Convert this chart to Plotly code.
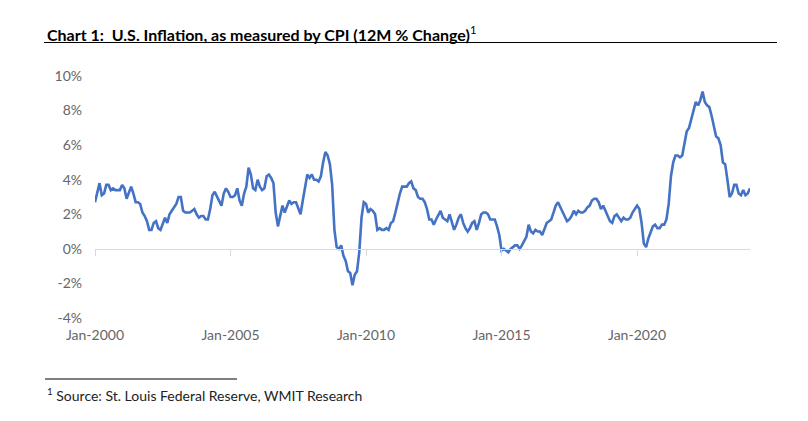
import plotly.graph_objects as go

# Monthly CPI-U 12-month % change, Jan-2000 .. Mar-2024
cpi_2000 = [2.7, 3.2, 3.8, 3.1, 3.2, 3.7, 3.7, 3.4, 3.5, 3.4, 3.4, 3.4]
cpi_2001 = [3.7, 3.5, 2.9, 3.3, 3.6, 3.2, 2.7, 2.7, 2.6, 2.1, 1.9, 1.6]
cpi_2002 = [1.1, 1.1, 1.5, 1.6, 1.2, 1.1, 1.5, 1.8, 1.5, 2.0, 2.2, 2.4]
cpi_2003 = [2.6, 3.0, 3.0, 2.2, 2.1, 2.1, 2.1, 2.2, 2.3, 2.0, 1.8, 1.9]
cpi_2004 = [1.9, 1.7, 1.7, 2.3, 3.1, 3.3, 3.0, 2.7, 2.5, 3.2, 3.5, 3.3]
cpi_2005 = [3.0, 3.0, 3.1, 3.5, 2.8, 2.5, 3.2, 3.6, 4.7, 4.3, 3.5, 3.4]
cpi_2006 = [4.0, 3.6, 3.4, 3.5, 4.2, 4.3, 4.1, 3.8, 2.1, 1.3, 2.0, 2.5]
cpi_2007 = [2.1, 2.4, 2.8, 2.6, 2.7, 2.7, 2.4, 2.0, 2.8, 3.5, 4.3, 4.1]
cpi_2008 = [4.3, 4.0, 4.0, 3.9, 4.2, 5.0, 5.6, 5.4, 4.9, 3.7, 1.1, 0.1]
cpi_2009 = [0.0, 0.2, -0.4, -0.7, -1.3, -1.4, -2.1, -1.5, -1.3, -0.2, 1.8, 2.7]
cpi_2010 = [2.6, 2.1, 2.3, 2.2, 2.0, 1.1, 1.2, 1.1, 1.1, 1.2, 1.1, 1.5]
cpi_2011 = [1.6, 2.1, 2.7, 3.2, 3.6, 3.6, 3.6, 3.8, 3.9, 3.5, 3.4, 3.0]
cpi_2012 = [2.9, 2.9, 2.7, 2.3, 1.7, 1.7, 1.4, 1.7, 2.0, 2.2, 1.8, 1.7]
cpi_2013 = [1.6, 2.0, 1.5, 1.1, 1.4, 1.8, 2.0, 1.5, 1.2, 1.0, 1.2, 1.5]
cpi_2014 = [1.6, 1.1, 1.5, 2.0, 2.1, 2.1, 2.0, 1.7, 1.7, 1.7, 1.3, 0.8]
cpi_2015 = [-0.1, 0.0, -0.1, -0.2, 0.0, 0.1, 0.2, 0.2, 0.0, 0.2, 0.5, 0.7]
cpi_2016 = [1.4, 1.0, 0.9, 1.1, 1.0, 1.0, 0.8, 1.1, 1.5, 1.6, 1.7, 2.1]
cpi_2017 = [2.5, 2.7, 2.4, 2.2, 1.9, 1.6, 1.7, 1.9, 2.2, 2.0, 2.2, 2.1]
cpi_2018 = [2.1, 2.2, 2.4, 2.5, 2.8, 2.9, 2.9, 2.7, 2.3, 2.5, 2.2, 1.9]
cpi_2019 = [1.6, 1.5, 1.9, 2.0, 1.8, 1.6, 1.8, 1.7, 1.7, 1.8, 2.1, 2.3]
cpi_2020 = [2.5, 2.3, 1.5, 0.3, 0.1, 0.6, 1.0, 1.3, 1.4, 1.2, 1.2, 1.4]
cpi_2021 = [1.4, 1.7, 2.6, 4.2, 5.0, 5.4, 5.4, 5.3, 5.4, 6.2, 6.8, 7.0]
cpi_2022 = [7.5, 7.9, 8.5, 8.3, 8.6, 9.1, 8.5, 8.3, 8.2, 7.7, 7.1, 6.5]
cpi_2023 = [6.4, 6.0, 5.0, 4.9, 4.0, 3.0, 3.2, 3.7, 3.7, 3.2, 3.1, 3.4]
cpi_2024 = [3.1, 3.2, 3.5]

cpi = (cpi_2000 + cpi_2001 + cpi_2002 + cpi_2003 + cpi_2004 + cpi_2005 +
       cpi_2006 + cpi_2007 + cpi_2008 + cpi_2009 + cpi_2010 + cpi_2011 +
       cpi_2012 + cpi_2013 + cpi_2014 + cpi_2015 + cpi_2016 + cpi_2017 +
       cpi_2018 + cpi_2019 + cpi_2020 + cpi_2021 + cpi_2022 + cpi_2023 +
       cpi_2024)
months = list(range(len(cpi)))

x_tick_vals = [0, 60, 120, 180, 240]
x_tick_text = ["Jan-2000", "Jan-2005", "Jan-2010", "Jan-2015", "Jan-2020"]
y_tick_vals = [-4, -2, 0, 2, 4, 6, 8, 10]
y_tick_text = ["-4%", "-2%", "0%", "2%", "4%", "6%", "8%", "10%"]

# page body adds an 8px margin, so work in a slightly smaller paper
OFF = 8
W, H = 808 - OFF, 421 - OFF


def px(x):
    return (x - OFF) / W


def py(y):
    return 1 - (y - OFF) / H


y_min, y_max = -4, 10
x_dom = [px(95), px(750)]
y_dom = [py(318), py(76)]
zero_pos = y_dom[0] + (0 - y_min) / (y_max - y_min) * (y_dom[1] - y_dom[0])

FONT = "Lato"
GRAY = "#666666"

fig = go.Figure()
fig.add_trace(go.Scatter(x=months, y=cpi, mode="lines",
                         line=dict(color="#4472C4", width=2.6),
                         hoverinfo="skip", showlegend=False))
# helper trace so the zero-positioned axis is drawn
fig.add_trace(go.Scatter(x=months, y=cpi, mode="lines", xaxis="x2",
                         line=dict(color="rgba(0,0,0,0)", width=0),
                         hoverinfo="skip", showlegend=False))

fig.update_layout(
    template="none",
    width=W, height=H, autosize=False,
    margin=dict(l=0, r=0, t=0, b=0, pad=0),
    paper_bgcolor="white", plot_bgcolor="white",
    font=dict(family=FONT, color=GRAY, size=13),
    xaxis=dict(domain=x_dom, range=[0, len(cpi) - 1], showgrid=False,
               automargin=False,
               zeroline=False, showline=False, ticks="",
               tickmode="array", tickvals=x_tick_vals, ticktext=x_tick_text,
               tickfont=dict(family=FONT, size=14, color=GRAY),
               ticklabelstandoff=7),
    xaxis2=dict(overlaying="x", anchor="free", position=zero_pos,
                automargin=False,
                range=[0, len(cpi) - 1], showgrid=False, zeroline=False,
                showline=True, linecolor="#d9d9d9", linewidth=1,
                ticks="outside", ticklen=6, tickcolor="#d9d9d9",
                tickvals=x_tick_vals, showticklabels=False, side="bottom"),
    yaxis=dict(domain=y_dom, range=[y_min, y_max], showgrid=False,
               automargin=False,
               zeroline=False, showline=False, ticks="",
               tickmode="array", tickvals=y_tick_vals, ticktext=y_tick_text,
               tickfont=dict(family=FONT, size=14, color=GRAY),
               ticklabelstandoff=12),
)

# Title and rule
fig.add_annotation(text="<b>Chart 1:  U.S. Inflation, as measured by CPI (12M % Change)</b><sup>1</sup>",
                   xref="paper", yref="paper", x=px(45), y=py(34),
                   xanchor="left", yanchor="middle", showarrow=False,
                   font=dict(family=FONT, size=16, color="black"))
fig.add_shape(type="line", xref="paper", yref="paper",
              x0=px(44), x1=px(777), y0=py(42.5), y1=py(42.5),
              line=dict(color="black", width=1))

# Footnote
fig.add_shape(type="line", xref="paper", yref="paper",
              x0=px(45), x1=px(237), y0=py(379), y1=py(379),
              line=dict(color="black", width=1))
fig.add_annotation(text="<sup>1</sup> Source: St. Louis Federal Reserve, WMIT Research",
                   xref="paper", yref="paper", x=px(45), y=py(394),
                   xanchor="left", yanchor="middle", showarrow=False,
                   font=dict(family=FONT, size=14, color="#222222"))

fig.write_html("out.html")
